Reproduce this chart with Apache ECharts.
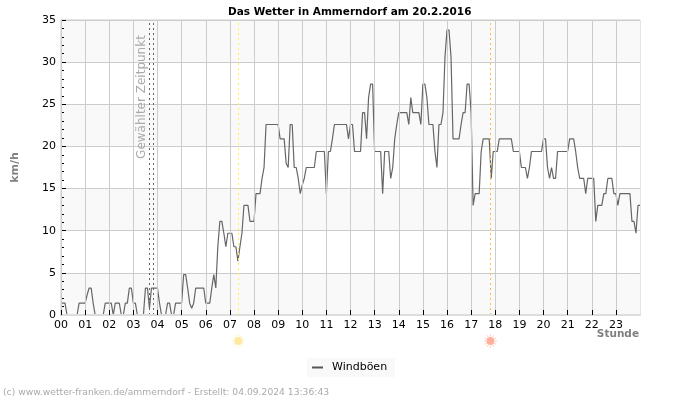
<!DOCTYPE html>
<html>
<head>
<meta charset="utf-8">
<title>Das Wetter in Ammerndorf</title>
<script src="https://cdn.jsdelivr.net/npm/echarts@6/dist/echarts.min.js"></script>
<style>
  html, body { margin: 0; padding: 0; background: #fff; }
  #chart { width: 700px; height: 400px; }
</style>
</head>
<body>
<div id="chart"></div>
<script>
// gusts in km/h, one row per hour, 5 minute samples
const gusts = [
  1.4,1.4,1.4,0,0,0,0,0,0,1.4,1.4,1.4,
  1.4,2.4,3.2,3.2,1.4,0,0,0,0,0,1.4,1.4,
  1.4,1.4,0,1.4,1.4,1.4,0,0,1.4,1.4,3.2,3.2,
  1.4,1.4,0,0,0,0,3.2,3.2,0.8,3.2,3.2,3.2,
  3.2,1.4,0,0,0,1.4,1.4,0,0,1.4,1.4,1.4,
  1.4,4.8,4.8,3.2,1.4,0.8,1.4,3.2,3.2,3.2,3.2,3.2,
  1.4,1.4,1.4,3.2,4.8,3.2,8.1,11.1,11.1,9.7,8.1,9.7,
  9.7,9.7,8.1,8.1,6.4,8.1,9.7,13,13,13,11.1,11.1,
  11.1,14.4,14.4,14.4,16.2,17.5,22.6,22.6,22.6,22.6,22.6,22.6,
  22.6,20.9,20.9,20.9,18,17.5,22.6,22.6,17.5,17.5,16.2,14.4,
  15.4,16.2,17.5,17.5,17.5,17.5,17.5,19.4,19.4,19.4,19.4,19.4,
  14.4,19.4,19.4,20.9,22.6,22.6,22.6,22.6,22.6,22.6,22.6,20.9,
  22.6,22.6,19.4,19.4,19.4,19.4,24,24,20.9,25.8,27.4,27.4,
  19.4,19.4,19.4,19.4,14.4,19.4,19.4,19.4,16.2,17.5,20.9,22.6,
  24,24,24,24,24,22.6,25.8,24,24,24,24,22.6,
  27.4,27.4,25.8,22.6,22.6,22.6,19.4,17.5,22.6,22.6,24,30.6,
  33.8,33.8,30.6,20.9,20.9,20.9,20.9,22.6,24,24,27.4,27.4,
  24,13,14.4,14.4,14.4,19.4,20.9,20.9,20.9,20.9,16.2,19.4,
  19.4,19.4,20.9,20.9,20.9,20.9,20.9,20.9,20.9,19.4,19.4,19.4,
  19.4,17.5,17.5,17.5,16.2,17.5,19.4,19.4,19.4,19.4,19.4,19.4,
  20.9,20.9,17.5,16.2,17.5,16.2,16.2,19.4,19.4,19.4,19.4,19.4,
  19.4,20.9,20.9,20.9,19.4,17.5,16.2,16.2,16.2,14.4,16.2,16.2,
  16.2,16.2,11.1,13,13,13,14.4,14.4,16.2,16.2,16.2,14.4,
  14.4,13,14.4,14.4,14.4,14.4,14.4,14.4,11.1,11.1,9.7,13,
  13
]
const hourLabels = ['00','01','02','03','04','05','06','07','08','09','10','11',
  '12','13','14','15','16','17','18','19','20','21','22','23']
const hourTicks = hourLabels.map(h => Number(h))
const selectedTimes = [3.67, 3.83]
const sunrise = 7.35
const sunset = 17.8

const chart = echarts.init(document.getElementById('chart'))
const font = '"DejaVu Sans", sans-serif'

// sun icon under the axis, a disc with short rays
function sunIcon(x, y, color) {
  const children = [{ type: 'circle', shape: { cx: 0, cy: 0, r: 4 }, style: { fill: color } }]
  for (let a = 0; a < 12; a++) {
    const t = a * Math.PI / 6
    children.push({
      type: 'line',
      shape: { x1: 4.5 * Math.cos(t), y1: 4.5 * Math.sin(t), x2: 6.5 * Math.cos(t), y2: 6.5 * Math.sin(t) },
      style: { stroke: color, lineWidth: 1, opacity: 0.7 }
    })
  }
  return { type: 'group', x: x, y: y, children: children }
}

chart.setOption({
  animation: false,
  backgroundColor: '#fff',
  title: {
    text: 'Das Wetter in Ammerndorf am 20.2.2016',
    left: 223,
    top: 2,
    textStyle: { fontFamily: font, fontSize: 10.5, fontWeight: 'bold', color: '#000' }
  },
  legend: {
    data: [{ name: 'Windböen', icon: 'rect', itemStyle: { color: '#555' } }],
    left: 307,
    top: 358,
    padding: [4, 8, 4, 5],
    backgroundColor: '#f9f9f9',
    itemWidth: 11,
    itemHeight: 2,
    itemGap: 5,
    textStyle: { fontFamily: font, fontSize: 11, color: '#000', padding: [0, 0, 0, 4] }
  },
  grid: { left: 61, right: 60, top: 20, bottom: 85, show: true, borderColor: '#ccc', borderWidth: 1 },
  xAxis: {
    type: 'value',
    min: 0,
    max: 24,
    interval: 1,
    z: 5,
    axisLine: { show: true, lineStyle: { color: '#ddd', width: 2 } },
    axisTick: { show: true, inside: true, length: 5, customValues: hourTicks, lineStyle: { color: '#000' } },
    axisLabel: {
      customValues: hourTicks,
      margin: 5,
      fontFamily: font,
      fontSize: 11,
      color: '#000',
      formatter: v => hourLabels[v]
    },
    splitLine: { show: true, lineStyle: { color: '#ccc', width: 1 } }
  },
  yAxis: {
    type: 'value',
    min: 0,
    max: 35,
    interval: 5,
    name: 'km/h',
    nameLocation: 'middle',
    nameGap: 40,
    nameTextStyle: { fontFamily: font, fontSize: 11, fontWeight: 'bold', color: '#808080' },
    axisLine: { show: true, lineStyle: { color: '#ccc' } },
    axisTick: { show: true, inside: true, length: 5, lineStyle: { color: '#000' } },
    minorTick: { show: true, splitNumber: 5, length: 3, lineStyle: { color: '#000' } },
    axisLabel: { margin: 5, fontFamily: font, fontSize: 11, color: '#000' },
    splitLine: { show: true, lineStyle: { color: '#ccc', width: 1 } },
    splitArea: { show: true, areaStyle: { color: ['#f9f9f9', '#fff'] } }
  },
  series: [{
    name: 'Windböen',
    type: 'line',
    showSymbol: false,
    data: gusts.map((v, i) => [i / 12, v]),
    lineStyle: { color: '#666', width: 1.2 },
    itemStyle: { color: '#666' },
    markLine: {
      silent: true,
      symbol: 'none',
      label: { show: false },
      data: [
        { xAxis: selectedTimes[0], lineStyle: { color: '#666', type: [2, 3], width: 1 } },
        { xAxis: selectedTimes[1], lineStyle: { color: '#666', type: [2, 3], width: 1 } },
        { xAxis: sunrise, lineStyle: { color: '#ffee55', type: [2, 3], width: 1 } },
        { xAxis: sunset, lineStyle: { color: '#ffbb44', type: [2, 3], width: 1 } }
      ]
    }
  }]
})

chart.setOption({
  graphic: [
    sunIcon(chart.convertToPixel({ xAxisIndex: 0 }, sunrise), 341, '#ffe9a0'),
    sunIcon(chart.convertToPixel({ xAxisIndex: 0 }, sunset), 341, '#ffb09c'),
    {
      type: 'text',
      x: 142,
      y: 97,
      rotation: Math.PI / 2,
      style: {
        text: 'Gewählter Zeitpunkt',
        font: '12px ' + font,
        fill: '#aaa',
        align: 'center',
        verticalAlign: 'middle'
      }
    },
    {
      type: 'text',
      x: 639,
      y: 334,
      style: {
        text: 'Stunde',
        font: 'bold 10.5px ' + font,
        fill: '#808080',
        align: 'right',
        verticalAlign: 'middle'
      }
    },
    {
      type: 'text',
      x: 3,
      y: 393,
      style: {
        text: '(c) www.wetter-franken.de/ammerndorf - Erstellt: 04.09.2024 13:36:43',
        font: '9.2px ' + font,
        fill: '#aaa',
        align: 'left',
        verticalAlign: 'middle'
      }
    }
  ]
})
</script>
</body>
</html>
